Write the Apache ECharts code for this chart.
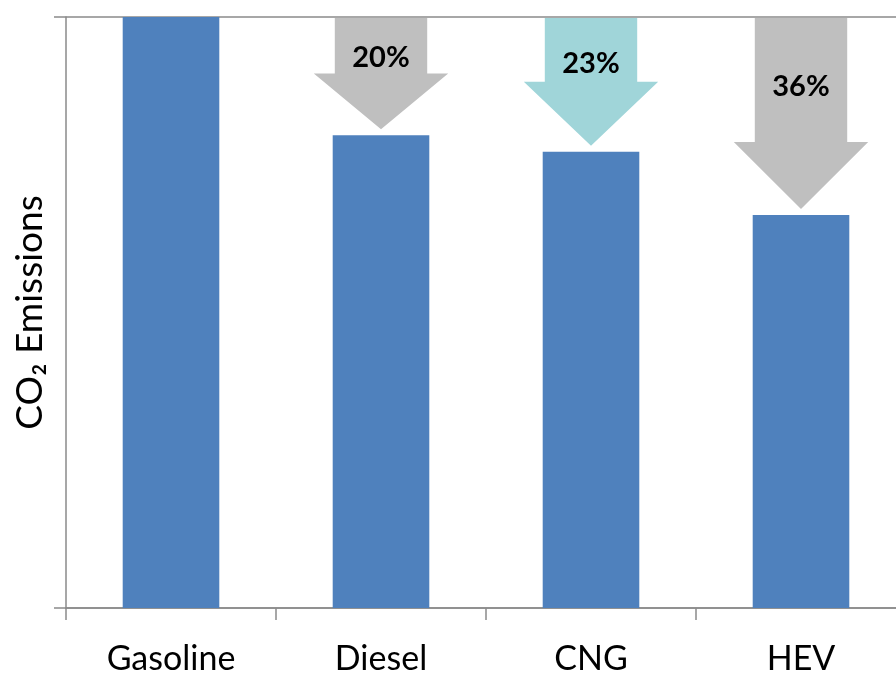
<!DOCTYPE html>
<html>
<head>
<meta charset="utf-8">
<script src="https://cdn.jsdelivr.net/npm/echarts@6/dist/echarts.min.js"></script>
<style>
  html, body { margin: 0; padding: 0; background: #fff; }
  #chart { width: 896px; height: 673px; }
</style>
</head>
<body>
<div id="chart"></div>
<script>
const categories = ['Gasoline', 'Diesel', 'CNG', 'HEV']
const emissions = [100, 80, 77.2, 66.5]
// arrows drawn from the gasoline level down to each alternative's bar
const arrowCats = [1, 2, 3]
const arrowLabels = ['20%', '23%', '36%']
const arrowColors = ['#bfbfbf', '#a0d5d9', '#bfbfbf']

const font = 'Lato, "Open Sans", sans-serif'
const axisColor = '#8a8a8a'

const arrowData = arrowCats.map(i => [i, emissions[0], emissions[i]])

function renderArrow(params, api) {
  const top = api.coord([api.value(0), api.value(1)])
  const end = api.coord([api.value(0), api.value(2)])
  const band = api.size([1, 0])[0]
  const cx = top[0]
  const y0 = top[1] + 1
  const tip = end[1] - 6
  const len = tip - y0
  const headH = Math.min(len * 0.5, 67)
  const sh = band * 0.22
  const hh = band * 0.32
  const neck = tip - headH
  return {
    type: 'group',
    children: [{
      type: 'polygon',
      shape: {
        points: [
          [cx - sh, y0], [cx + sh, y0], [cx + sh, neck], [cx + hh, neck],
          [cx, tip], [cx - hh, neck], [cx - sh, neck]
        ]
      },
      style: { fill: arrowColors[params.dataIndex] }
    }, {
      type: 'text',
      x: cx,
      y: y0 + len * 0.36,
      style: {
        text: arrowLabels[params.dataIndex],
        fill: '#000',
        font: 'bold 29px ' + font,
        align: 'center',
        verticalAlign: 'middle'
      }
    }]
  }
}

const chart = echarts.init(document.getElementById('chart'))
chart.setOption({
  animation: false,
  grid: { left: 66, top: 17, bottom: 65, right: -10, outerBoundsMode: 'none' },
  xAxis: {
    type: 'category',
    data: categories,
    axisLine: { lineStyle: { color: axisColor, width: 1.5 } },
    axisTick: { show: true, length: 12, interval: 0, lineStyle: { color: axisColor, width: 1.5 } },
    axisLabel: { margin: 34, fontSize: 34, color: '#000', fontFamily: font }
  },
  yAxis: {
    type: 'value',
    min: 0,
    max: 100,
    interval: 100,
    name: 'CO₂ Emissions',
    nameLocation: 'middle',
    nameGap: 17,
    nameTextStyle: { fontSize: 37, color: '#000', fontFamily: font },
    axisLine: { show: true, lineStyle: { color: axisColor, width: 1.5 } },
    axisTick: { show: true, length: 12, lineStyle: { color: axisColor, width: 1.5 } },
    axisLabel: { show: false },
    splitLine: { show: true, lineStyle: { color: axisColor, width: 1.5 } }
  },
  series: [{
    type: 'bar',
    data: emissions,
    barWidth: '46%',
    itemStyle: { color: '#4f81bd' }
  }, {
    type: 'custom',
    renderItem: renderArrow,
    data: arrowData,
    z: 3
  }]
})
</script>
</body>
</html>
